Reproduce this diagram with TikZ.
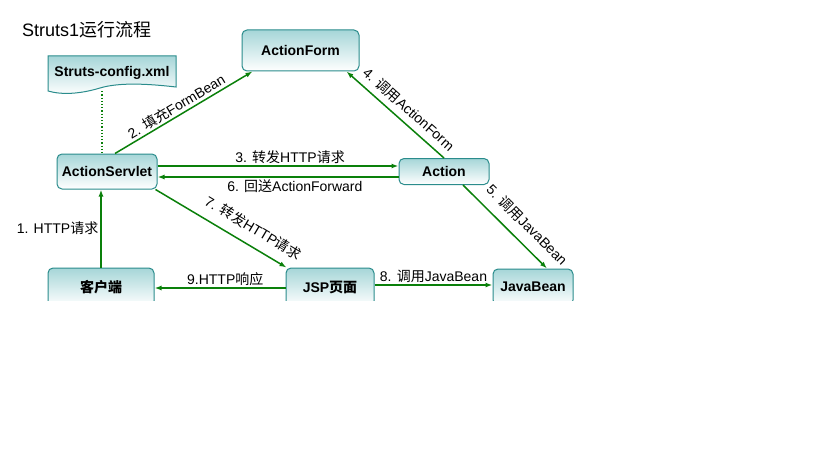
\documentclass[tikz,border=0pt]{standalone}
\usepackage{fontspec}
\setmainfont{Liberation Sans}
\newfontfamily\cjk{Noto Sans CJK SC}
\usetikzlibrary{arrows.meta}
\newcommand{\zh}[1]{{\cjk #1}}
\definecolor{boxline}{HTML}{2A8C8C}
\definecolor{boxtop}{HTML}{A6D6D8}
\definecolor{flowgreen}{HTML}{0A800A}
\tikzset{
  box/.style={draw=boxline, line width=1pt, rounded corners=5pt, top color=boxtop, bottom color=white,
    font=\fontsize{14}{16}\selectfont\bfseries, inner sep=0pt},
  flow/.style={draw=flowgreen, line width=1.5pt, -{Latex[length=7pt,width=5pt]}},
  lbl/.style={font=\fontsize{14}{16}\selectfont, inner sep=2pt}
}
\begin{document}
\begin{tikzpicture}[x=1pt,y=-1pt]
    \useasboundingbox (0,0) rectangle (819,460);
    \fill[white] (0,0) rectangle (819,460);
    \begin{scope}
        \clip (0,0) rectangle (583,300);
        %% title
        \node[anchor=west, font=\fontsize{18}{20}\selectfont, inner sep=0pt] (title) at (22,30) {Struts1\zh{运行流程}};
        %% config file
        \draw[boxline, line width=1pt, top color=boxtop, bottom color=white] (48,56) -- (176,56) -- (176,87)
            .. controls (150,84) and (120,82) .. (100,88) .. controls (80,94) and (62,95) .. (48,91) -- cycle;
        \node[font=\fontsize{14}{16}\selectfont\bfseries, minimum width=128, minimum height=36, inner sep=0pt] (config) at (112,73) {Struts-config.xml};
        %% boxes
        \node[box, minimum width=117, minimum height=41] (form) at (300.5,50.5) {ActionForm};
        \node[box, minimum width=100, minimum height=35] (servlet) at (107,171.5) {ActionServlet};
        \node[box, minimum width=90, minimum height=26] (action) at (444,171.5) {Action};
        \node[box, minimum width=106, minimum height=38] (client) at (101,287) {\zh{客户端}};
        \node[box, minimum width=88, minimum height=38] (jsp) at (330,287) {JSP\zh{页面}};
        \node[box, minimum width=80, minimum height=36] (bean) at (533,287) {JavaBean};
        %% connectors
        \draw[flowgreen, line width=1.2pt, dotted] ([xshift=-10pt]config.south) -- ([xshift=-10pt]config.south |- servlet.north);
        \draw[flow] (client.north) -- (client.north |- servlet.south) node[lbl, pos=0.5, left] {1. HTTP\zh{请求}};
        \draw[flow] ([xshift=8pt]servlet.north) -- ([xshift=11pt]form.south west) node[lbl, pos=0.48, sloped, above] {2. \zh{填充}FormBean};
        \draw[flow] ([yshift=5.5pt]servlet.east) -- ([yshift=5.5pt]servlet.east -| action.west) node[lbl, pos=0.55, above] {3. \zh{转发}HTTP\zh{请求}};
        \draw[flow] (action.north) -- ([xshift=-13pt]form.south east) node[lbl, pos=0.45, sloped, above=4pt] {4. \zh{调用}ActionForm};
        \draw[flow] ([xshift=19pt]action.south) -- ([xshift=14pt]bean.north) node[lbl, pos=0.62, sloped, above=8pt] {5. \zh{调用}JavaBean};
        \draw[flow] ([yshift=-5.5pt]action.west) -- ([yshift=-5.5pt]action.west -| servlet.east) node[lbl, pos=0.43, below] {6. \zh{回送}ActionForward};
        \draw[flow] ([xshift=-2pt]servlet.south east) -- ([xshift=1pt]jsp.north west) node[lbl, pos=0.68, sloped, above=8pt] {7. \zh{转发}HTTP\zh{请求}};
        \draw[flow] ([yshift=2pt]jsp.east) -- ([yshift=2pt]jsp.east -| bean.west) node[lbl, pos=0.5, above] {8. \zh{调用}JavaBean};
        \draw[flow] ([yshift=-1pt]jsp.west) -- ([yshift=-1pt]jsp.west -| client.east) node[lbl, pos=0.46, above] {9.HTTP\zh{响应}};
    \end{scope}
\end{tikzpicture}
\end{document}
